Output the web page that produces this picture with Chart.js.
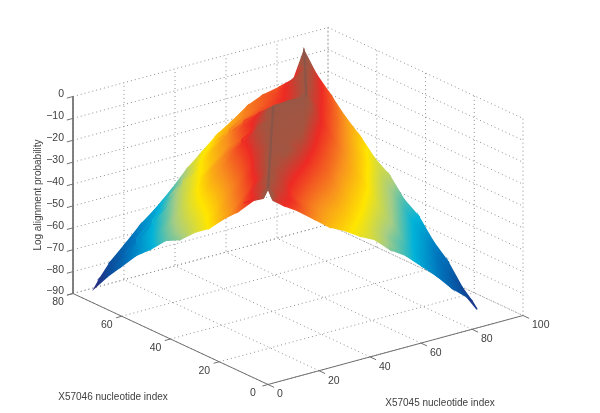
<!DOCTYPE html>
<html>
<head>
<meta charset="utf-8">
<title>Log alignment probability</title>
<script src="https://cdn.jsdelivr.net/npm/chart.js@4/dist/chart.umd.min.js"></script>
<style>
  html, body { margin: 0; padding: 0; background: #ffffff; }
  canvas { display: block; }
</style>
</head>
<body>
<canvas id="surface-chart" width="600" height="413"></canvas>
<script>
// Surface values: one row per ys entry, one column per xs entry
const xs = [0, 2, 6, 12, 18, 24, 30, 36, 42, 48, 54, 60, 66, 72, 78, 82];
const ys = [0, 2, 6, 12, 18, 24, 30, 36, 42, 48, 54, 60, 66, 71];
const zRows = [
  [-0.5, -6.5, -10, -14.5, -20, -25.5, -29, -33.5, -37, -43.5, -48, -54.5, -61, -68.5, -74.5, -81.5],
  [-6, -1.5, -8.5, -11.5, -18, -23, -27, -31.5, -35.5, -41, -46.5, -52.5, -59, -66.5, -73, -79],
  [-9, -8, -5, -8.5, -14.5, -19.5, -23.5, -27, -32, -37.5, -43.5, -48.5, -55.5, -62, -69.5, -75],
  [-17, -14, -9, -4, -8, -12.5, -17, -20.5, -25.5, -30.5, -36.5, -41.5, -49, -55.5, -63, -66],
  [-23.5, -22, -17.5, -10.5, -4, -6.5, -10, -14.5, -18.5, -24.5, -29.5, -35.5, -42, -49.5, -56, -60],
  [-31, -28, -23, -16.5, -9, -4, -4, -7.5, -12.5, -17.5, -23, -28.5, -36, -42.5, -50, -51.5],
  [-36, -34, -30, -22.5, -16, -8.5, -4, -4.5, -5.5, -11, -16.5, -22.5, -29, -36.5, -43, -47],
  [-42.5, -39, -34.5, -28, -20.5, -14, -7, -4, -4, -4.5, -10, -15.5, -22.5, -29, -36.5, -39],
  [-46, -44, -39, -32.5, -25, -18.5, -11.5, -6, -3.5, -3.5, -3.5, -9, -16, -23, -30, -34.5],
  [-53, -50, -45, -38, -31.5, -24, -18.5, -14, -8, -3, -2.5, -2.5, -9.5, -16, -23.5, -27.5],
  [-59, -57, -52, -45.5, -38, -32, -26, -20.5, -13, -9.5, -9, -9, -4.5, -9.5, -16.5, -22],
  [-67, -64, -59, -52, -45.5, -38, -32, -25.5, -20, -16, -14, -12, -9, -4, -10, -15],
  [-75, -72, -68, -61, -54.5, -47, -40.5, -33, -27.5, -23, -19, -16, -13, -8.5, -4, -8.5],
  [-82.6, -79, -73, -66.5, -59.5, -54, -47.5, -40, -34, -28, -23.5, -18.5, -15.5, -14, -12, -0.3],
];

// The two dark creases of the ridge
const lowerFoldX = [0, 10, 20, 30, 46];
const lowerFoldY = [0, 10, 20, 30, 46];
const lowerFoldZ = [-0.5, -1, -1.5, -1, -1.5];
const upperFoldX = [60, 66, 72, 82];
const upperFoldY = [47, 53.5, 60, 71];
const upperFoldZ = [-2, -1.5, -1, -0.3];

const xTicks = [0, 20, 40, 60, 80, 100];
const yTicks = [0, 20, 40, 60, 80];
const zTicks = [0, -10, -20, -30, -40, -50, -60, -70, -80, -90];

const xTitle = "X57045 nucleotide index";
const yTitle = "X57046 nucleotide index";
const zTitle = "Log alignment probability";

// Colormap, printed jet
const colorStops = [0, 0.125, 0.25, 0.375, 0.5, 0.625, 0.75, 0.875, 0.94, 1];
const colorValues = ["#2b2a7f", "#0a4f9e", "#0078bf", "#00b2d9", "#a5cd85", "#ffe600", "#f8901e", "#ee2a24", "#a5543f", "#8f5a4c"];
const zLow = -83;
const zHigh = 0;

// Orthographic view of the axes box, in the 600x413 view space
function project(x, y, z) {
  return {
    x: 268 + (x / 100) * 255 - (y / 80) * 195,
    y: 384.5 - (x / 100) * 69 - (y / 80) * 91 + (z / -90 - 1) * 197,
  };
}

function colorIndex(z) {
  return Math.min(1, Math.max(0, (z - zLow) / (zHigh - zLow)));
}

function colorAt(t) {
  let i = 0;
  while (i < colorStops.length - 2 && t > colorStops[i + 1]) i++;
  const k = (t - colorStops[i]) / (colorStops[i + 1] - colorStops[i]);
  const a = colorValues[i], b = colorValues[i + 1];
  const part = (c, s) => parseInt(c.substr(s, 2), 16);
  const mix = (s) => Math.round(part(a, s) + (part(b, s) - part(a, s)) * k);
  return `rgb(${mix(1)}, ${mix(3)}, ${mix(5)})`;
}

function meanColor(corners) {
  return colorAt((colorIndex(corners[0].z) + colorIndex(corners[1].z) + colorIndex(corners[2].z)) / 3);
}

// z is linear over a triangle, so a linear gradient gives the exact interpolated shading.
// Squeezed triangles have a very steep gradient, their border falls back on a flat colour.
function triangleFill(context, corners, maxSlope) {
  const chart = context.chart;
  const sx = chart.scales.x, sy = chart.scales.y;
  const flat = meanColor(corners);
  if (!sx || !sy) return flat;
  const pts = corners.map((c) => {
    const p = project(c.x, c.y, c.z);
    return { x: sx.getPixelForValue(p.x), y: sy.getPixelForValue(p.y), t: colorIndex(c.z) };
  });
  const ux = pts[1].x - pts[0].x, uy = pts[1].y - pts[0].y, ut = pts[1].t - pts[0].t;
  const vx = pts[2].x - pts[0].x, vy = pts[2].y - pts[0].y, vt = pts[2].t - pts[0].t;
  const det = ux * vy - uy * vx;
  if (!Number.isFinite(det) || Math.abs(det) < 0.001) return flat;
  const gx = (ut * vy - uy * vt) / det;
  const gy = (ux * vt - ut * vx) / det;
  const len = gx * gx + gy * gy;
  if (len < 1e-9 || Math.sqrt(len) > maxSlope) return flat;
  const x0 = pts[0].x - (gx * pts[0].t) / len;
  const y0 = pts[0].y - (gy * pts[0].t) / len;
  const gradient = chart.ctx.createLinearGradient(x0, y0, x0 + gx / len, y0 + gy / len);
  colorStops.forEach((s, i) => gradient.addColorStop(s, colorValues[i]));
  return gradient;
}

const datasets = [];

function addTriangle(corners, order) {
  const path = corners.concat(corners[0]).map((c) => project(c.x, c.y, c.z));
  datasets.push({
    data: path,
    showLine: true,
    fill: "shape",
    backgroundColor: (context) => triangleFill(context, corners, Infinity),
    borderColor: (context) => triangleFill(context, corners, 0.012),
    borderWidth: 1.5,
    pointRadius: 0,
    order: order,
  });
}

function addLine(points, color, width, dash, order) {
  datasets.push({
    data: points,
    showLine: true,
    fill: false,
    borderColor: color,
    borderWidth: width,
    borderDash: dash,
    pointRadius: 0,
    order: order,
  });
}

// Walls and floor
const dots = [1, 3];
const gridColor = "#8f8f8f";
const axisColor = "#707070";
const xEnd = xTicks[xTicks.length - 1], yEnd = yTicks[yTicks.length - 1];
const zTop = zTicks[0], zBottom = zTicks[zTicks.length - 1];
xTicks.forEach((x) => {
  addLine([project(x, 0, zBottom), project(x, yEnd, zBottom), project(x, yEnd, zTop)], gridColor, 1, dots, 5000);
});
yTicks.forEach((y) => {
  addLine([project(0, y, zBottom), project(xEnd, y, zBottom), project(xEnd, y, zTop)], gridColor, 1, dots, 5000);
});
zTicks.forEach((z) => {
  addLine([project(0, yEnd, z), project(xEnd, yEnd, z), project(xEnd, 0, z)], gridColor, 1, dots, 5000);
});

// Solid axes with their ticks
addLine([project(0, yEnd, zTop), project(0, yEnd, zBottom), project(0, 0, zBottom), project(xEnd, 0, zBottom)], axisColor, 1, [], 4000);
xTicks.forEach((x) => {
  addLine([project(x, 0, zBottom), project(x, -2.5, zBottom)], axisColor, 1, [], 4000);
});
yTicks.forEach((y) => {
  addLine([project(0, y, zBottom), project(-2.2, y, zBottom)], axisColor, 1, [], 4000);
});
zTicks.forEach((z) => {
  addLine([project(0, yEnd, z), project(-2.4, yEnd, z)], axisColor, 1, [], 4000);
});

// Surface, far cells first
ys.slice(0, -1).forEach((y, j) => {
  xs.slice(0, -1).forEach((x, i) => {
    const a = { x: xs[i], y: ys[j], z: zRows[j][i] };
    const b = { x: xs[i + 1], y: ys[j], z: zRows[j][i + 1] };
    const c = { x: xs[i + 1], y: ys[j + 1], z: zRows[j + 1][i + 1] };
    const d = { x: xs[i], y: ys[j + 1], z: zRows[j + 1][i] };
    addTriangle([a, b, c], 10 + 2 * (i + j));
    addTriangle([a, c, d], 11 + 2 * (i + j));
  });
});

addLine(lowerFoldX.map((x, i) => project(x, lowerFoldY[i], lowerFoldZ[i])), "#8a5549", 2.2, [], 1);
addLine(upperFoldX.map((x, i) => project(x, upperFoldY[i], upperFoldZ[i])), "#8a5549", 1.8, [], 1);

// Tick labels and axis titles sit on the projected axes
const axisText = {
  id: "axisText",
  afterDatasetsDraw(chart) {
    const ctx = chart.ctx;
    const sx = chart.scales.x, sy = chart.scales.y;
    const put = (p, dx, dy, text, align) => {
      ctx.textAlign = align;
      ctx.fillText(text, sx.getPixelForValue(p.x) + dx, sy.getPixelForValue(p.y) + dy);
    };
    ctx.save();
    ctx.fillStyle = "#404040";
    ctx.font = "10.5px 'Liberation Sans', Arial, sans-serif";
    ctx.textBaseline = "middle";
    zTicks.forEach((z) => {
      put(project(0, yEnd, z), -9, -2, z < 0 ? "\u2212" + -z : String(z), "right");
    });
    xTicks.forEach((x) => {
      put(project(x, 0, zBottom), 9, 10, String(x), "left");
    });
    yTicks.forEach((y) => {
      put(project(0, y, zBottom), -15, 9, String(y), "center");
    });
    ctx.font = "10px 'Liberation Sans', Arial, sans-serif";
    put({ x: 113, y: 397 }, 0, 0, yTitle, "center");
    put({ x: 440, y: 403 }, 0, 0, xTitle, "center");
    ctx.translate(sx.getPixelForValue(38), sy.getPixelForValue(195));
    ctx.rotate(-Math.PI / 2);
    ctx.textAlign = "center";
    ctx.fillText(zTitle, 0, 0);
    ctx.restore();
  },
};

new Chart(document.getElementById("surface-chart"), {
  type: "scatter",
  data: { datasets: datasets },
  options: {
    responsive: false,
    animation: false,
    layout: { padding: 0 },
    clip: false,
    scales: {
      x: { type: "linear", display: false, min: 0, max: 600 },
      y: { type: "linear", display: false, min: 0, max: 413, reverse: true },
    },
    plugins: {
      legend: { display: false },
      tooltip: { enabled: false },
    },
  },
  plugins: [axisText],
});
</script>
</body>
</html>
